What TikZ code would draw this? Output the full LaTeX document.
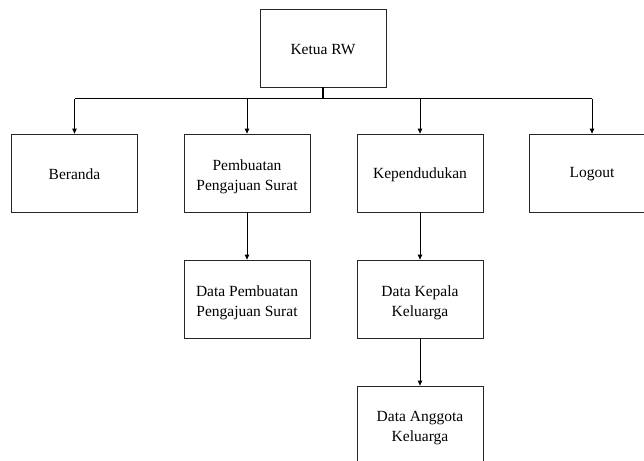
\documentclass[tikz,border=0pt]{standalone}
\usepackage{fontspec}
\setmainfont{Liberation Serif}
\usetikzlibrary{arrows.meta}
\begin{document}
\begin{tikzpicture}[x=1pt,y=-1pt,
  menubox/.style={draw=black!85, line width=0.8pt, minimum width=126pt, minimum height=78pt,
    inner sep=0pt, fill=white},
  menutext/.style={inner sep=0pt, align=center, font=\fontsize{15.5}{20}\selectfont},
  link/.style={draw=black, line width=0.8pt},
  drop/.style={link, -{Triangle[length=5pt,width=4.5pt]}}]
  \useasboundingbox (0,0) rectangle (644,460);
  \clip (0,0) rectangle (644,460);

  % menu tree boxes
  \node[menubox] (ketua) at (323,48) {};
  \node[menubox] (beranda) at (74.5,173) {};
  \node[menubox] (pembuatan) at (247,173) {};
  \node[menubox] (penduduk) at (420,173) {};
  \node[menubox] (logout) at (592,173) {};
  \node[menubox] (datasurat) at (247,299) {};
  \node[menubox] (kk) at (420,299) {};
  \node[menubox] (anggota) at (420,425) {};

  % box captions, set a little below the box centres
  \node[menutext] (tketua) at ([yshift=-1.5pt]ketua.center) {Ketua RW};
  \node[menutext] (tberanda) at ([yshift=-1.5pt]beranda.center) {Beranda};
  \node[menutext] (tpembuatan) at ([yshift=-3.5pt]pembuatan.center) {Pembuatan\\Pengajuan Surat};
  \node[menutext] (tpenduduk) at ([yshift=-1.5pt]penduduk.center) {Kependudukan};
  \node[menutext] (tlogout) at ([yshift=-1.5pt]logout.center) {Logout};
  \node[menutext] (tdatasurat) at ([yshift=-3.5pt]datasurat.center) {Data Pembuatan\\Pengajuan Surat};
  \node[menutext] (tkk) at ([yshift=-3.5pt]kk.center) {Data Kepala\\Keluarga};
  \node[menutext] (tanggota) at ([yshift=-3.5pt]anggota.center) {Data Anggota\\Keluarga};

  % branching bus under the root
  \coordinate (hub) at (ketua.south |- 0,98.5);
  \coordinate (busL) at (beranda.north |- hub);
  \coordinate (busR) at (logout.north |- hub);
  \draw[link, line width=1.3pt] (ketua.south) -- (hub);
  \draw[link] (busL) -- (busR);
  \draw[drop] (busL) -- (beranda.north);
  \draw[drop] (pembuatan.north |- hub) -- (pembuatan.north);
  \draw[drop] (penduduk.north |- hub) -- (penduduk.north);
  \draw[drop] (busR) -- (logout.north);

  % sub-menus
  \draw[drop] (pembuatan.south) -- (datasurat.north);
  \draw[drop] (penduduk.south) -- (kk.north);
  \draw[drop] (kk.south) -- (anggota.north);
\end{tikzpicture}
\end{document}
